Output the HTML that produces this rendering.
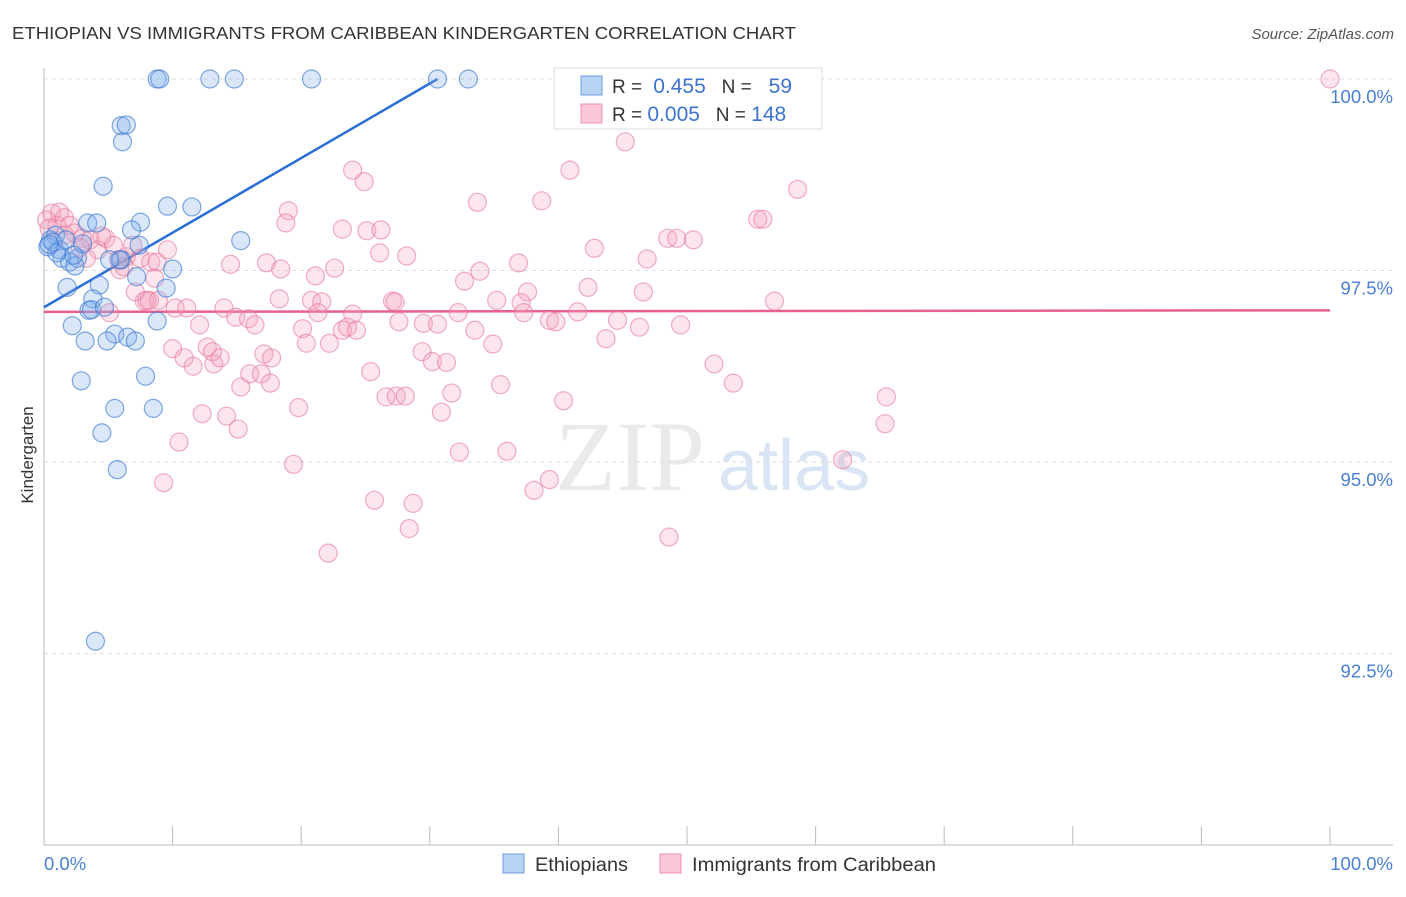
<!DOCTYPE html>
<html><head><meta charset="utf-8"><style>
body{margin:0;background:#fff;font-family:"Liberation Sans",sans-serif}
</style></head><body>
<svg width="1406" height="892" xmlns="http://www.w3.org/2000/svg" style="font-family:'Liberation Sans',sans-serif">
<text x="12" y="39" font-size="17.5" fill="#333" textLength="784" lengthAdjust="spacingAndGlyphs">ETHIOPIAN VS IMMIGRANTS FROM CARIBBEAN KINDERGARTEN CORRELATION CHART</text>
<text x="1394" y="39" font-size="15" fill="#555" font-style="italic" text-anchor="end">Source: ZipAtlas.com</text>
<g><text x="555" y="490" font-size="100" fill="#ddd" font-family="Liberation Serif,serif" opacity="0.6">ZIP</text><text x="718" y="490" font-size="72" fill="#c9dbf2" opacity="0.7">atlas</text></g>
<g id="grid"></g>
<g id="axes"></g>
<g id="lines"></g>
<g id="pts"></g>
<text transform="translate(33,455) rotate(-90)" font-size="17" fill="#333" text-anchor="middle">Kindergarten</text>
<g>
<rect x="554" y="68" width="268" height="61" fill="#fff" stroke="#ddd"/>
<rect x="581" y="76" width="21" height="19" fill="#b8d3f4" stroke="#6d9de0"/>
<rect x="581" y="104" width="21" height="19" fill="#f9c7d6" stroke="#ec93b0"/>
<text x="612" y="93" font-size="19" fill="#333">R = <tspan fill="#3d73cf" font-size="21">&#160;0.455</tspan>&#160;&#160;&#160;N = <tspan fill="#3d73cf" font-size="21">&#160;&#160;59</tspan></text>
<text x="612" y="121" font-size="19" fill="#333">R = <tspan fill="#3d73cf" font-size="21">0.005</tspan>&#160;&#160;&#160;N = <tspan fill="#3d73cf" font-size="21">148</tspan></text>
</g>
<g>
<rect x="503" y="854" width="21" height="19" fill="#b8d3f4" stroke="#6d9de0"/>
<text x="535" y="871" font-size="19" fill="#333" textLength="93" lengthAdjust="spacingAndGlyphs">Ethiopians</text>
<rect x="660" y="854" width="21" height="19" fill="#f9c7d6" stroke="#ec93b0"/>
<text x="692" y="871" font-size="19" fill="#333" textLength="244" lengthAdjust="spacingAndGlyphs">Immigrants from Caribbean</text>
</g>
</svg>
<script>
const yTicks=[100,97.5,95,92.5];
const yTickLabels=["100.0%","97.5%","95.0%","92.5%"];
const xTicks=[0,10,20,30,40,50,60,70,80,90,100];
const blueX=[8.8,9.0,12.9,14.8,20.8,30.6,33.0,6.0,6.4,6.1,4.6,9.6,11.5,3.4,4.1,7.5,6.8,15.3,7.4,0.5,0.9,0.3,1.2,1.4,2.0,2.6,2.4,1.8,4.3,6.0,7.2,10.0,9.5,3.8,3.5,3.7,4.7,8.8,2.2,5.5,6.5,4.9,7.1,3.2,2.9,7.9,5.5,8.5,4.5,5.7,4.0,0.7,1.0,3.0,1.7,5.9,5.1,0.4,2.3];
const blueY=[100,100,100,100,100,100,100,99.39,99.40,99.18,98.60,98.34,98.33,98.12,98.12,98.13,98.03,97.89,97.83,97.90,97.96,97.81,97.77,97.66,97.61,97.66,97.56,97.28,97.31,97.64,97.42,97.52,97.27,97.13,96.98,96.99,97.02,96.84,96.78,96.67,96.63,96.58,96.58,96.58,96.06,96.12,95.70,95.70,95.38,94.90,92.66,97.87,97.73,97.85,97.90,97.64,97.64,97.84,97.70];
const pinkX=[52.4,100,45.2,24.0,24.9,40.9,58.6,33.7,38.7,19.0,18.8,23.2,25.1,26.2,55.5,55.9,48.5,49.2,50.5,42.8,28.2,26.1,46.9,36.9,17.3,18.4,22.6,14.5,21.1,33.9,32.7,37.6,18.3,20.8,21.6,27.1,27.3,35.2,37.1,46.6,42.3,56.8,7.8,8.2,8.9,10.2,11.1,14.0,14.9,15.9,16.4,12.1,24.0,21.3,32.2,37.3,39.3,39.8,41.5,44.6,46.3,49.5,20.1,23.2,23.6,24.3,27.6,29.5,30.6,33.5,20.4,22.2,34.9,43.7,10.0,10.9,11.6,12.7,13.1,13.2,13.7,17.1,17.7,29.4,30.2,31.3,25.4,35.5,52.1,53.6,15.3,16.0,16.9,17.6,26.6,27.4,28.1,31.7,40.4,19.8,12.3,14.2,15.1,30.9,10.5,32.3,36.0,62.1,65.5,65.4,19.4,39.3,38.1,9.3,25.7,28.7,28.4,22.1,48.6,0.6,1.2,1.6,1.0,2.0,2.4,3.0,3.6,4.2,3.3,4.8,5.4,5.8,6.4,6.9,7.5,8.3,8.8,9.6,7.1,8.0,5.1,4.5,5.9,1.6,0.2,8.6,0.4,2.8,6.2];
const pinkY=[100,100,99.18,98.81,98.66,98.81,98.56,98.39,98.41,98.28,98.12,98.04,98.02,98.03,98.17,98.17,97.92,97.92,97.90,97.79,97.69,97.73,97.65,97.60,97.60,97.52,97.53,97.58,97.43,97.49,97.36,97.22,97.13,97.11,97.09,97.10,97.09,97.11,97.08,97.22,97.28,97.10,97.10,97.11,97.11,97.01,97.01,97.01,96.89,96.87,96.79,96.79,96.93,96.95,96.95,96.95,96.85,96.83,96.96,96.85,96.76,96.79,96.74,96.72,96.76,96.72,96.83,96.81,96.80,96.72,96.55,96.55,96.54,96.61,96.48,96.36,96.25,96.50,96.44,96.28,96.36,96.41,96.36,96.44,96.31,96.30,96.18,96.01,96.28,96.03,95.98,96.15,96.15,96.03,95.85,95.86,95.86,95.90,95.80,95.71,95.63,95.60,95.43,95.65,95.26,95.13,95.14,95.03,95.85,95.50,94.97,94.77,94.63,94.73,94.50,94.46,94.13,93.81,94.02,98.25,98.26,98.19,98.09,98.09,97.99,97.92,97.90,97.77,97.66,97.92,97.83,97.64,97.68,97.83,97.66,97.61,97.61,97.77,97.22,97.11,96.95,97.95,97.51,97.96,98.16,97.40,98.05,97.80,97.55];
const blueTrendX=[0,30.6];
const blueTrendY=[97.02,100];
const pinkTrendX=[0,100];
const pinkTrendY=[96.96,96.98];
const NS="http://www.w3.org/2000/svg";
const X0=44,X1=1330,Y0=845,Y1=79;
function sx(v){return X0+(v/100)*(X1-X0);}
function sy(v){return Y0-(v-90)/10*(Y0-Y1);}
function mk(tag,attrs,parent){const e=document.createElementNS(NS,tag);for(const k in attrs)e.setAttribute(k,attrs[k]);parent.appendChild(e);return e;}
const grid=document.getElementById('grid'),axes=document.getElementById('axes'),lines=document.getElementById('lines'),pts=document.getElementById('pts');
yTicks.forEach((t,i)=>{
 const l=mk('line',{x1:44,x2:1393,y1:sy(t),y2:sy(t),stroke:'#ddd','stroke-dasharray':'4,4'},grid);
 
 
 const tx=mk('text',{x:1393,y:sy(t)+24,'text-anchor':'end','font-size':18.5,fill:'#4a7fd4'},axes);
 tx.textContent=yTickLabels[i];
 
 
});
const ya=mk('line',{x1:44,x2:44,y1:68,y2:845,stroke:'#bbb'},axes);


const xa=mk('line',{x1:44,x2:1393,y1:845,y2:845,stroke:'#bbb'},axes);


xTicks.forEach(t=>{
 const l=mk('line',{x1:sx(t),x2:sx(t),y1:826,y2:845,stroke:'#bbb'},axes);
 
 
});
const xl0=mk('text',{x:44,y:870,'font-size':18.5,fill:'#4a7fd4'},axes);xl0.textContent='0.0%';


const xl1=mk('text',{x:1393,y:870,'font-size':18.5,fill:'#4a7fd4','text-anchor':'end'},axes);xl1.textContent='100.0%';


pinkX.forEach((v,i)=>{
 const c=mk('circle',{cx:sx(v),cy:sy(pinkY[i]),r:9,fill:'rgba(244,160,188,0.28)',stroke:'rgba(230,120,155,0.6)','stroke-width':1.2},pts);
 
 
});
blueX.forEach((v,i)=>{
 const c=mk('circle',{cx:sx(v),cy:sy(blueY[i]),r:9,fill:'rgba(130,175,235,0.3)',stroke:'rgba(60,120,210,0.65)','stroke-width':1.2},pts);
 
 
});
const bl=mk('line',{x1:sx(blueTrendX[0]),y1:sy(blueTrendY[0]),x2:sx(blueTrendX[1]),y2:sy(blueTrendY[1]),stroke:'#2a6fd6','stroke-width':2.5},lines);


const pl=mk('line',{x1:sx(pinkTrendX[0]),y1:sy(pinkTrendY[0]),x2:sx(pinkTrendX[1]),y2:sy(pinkTrendY[1]),stroke:'#e8608e','stroke-width':2.5},lines);


</script>
</body></html>
